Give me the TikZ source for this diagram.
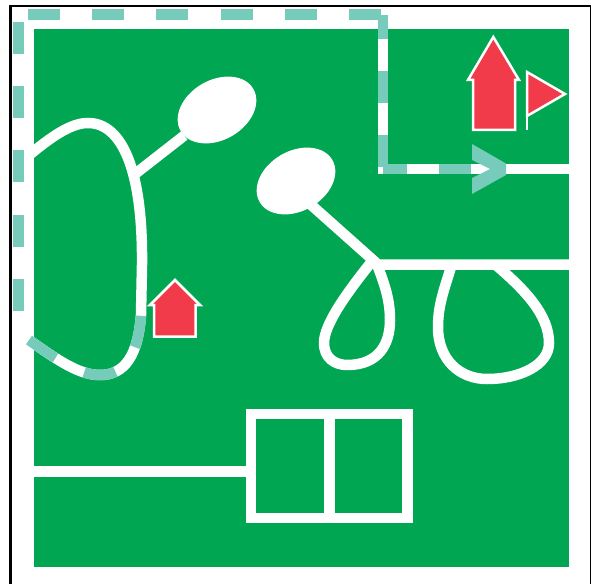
\documentclass[tikz,border=0pt]{standalone}
\usepackage{tikz}
\usetikzlibrary{calc,positioning,shapes.geometric}
\definecolor{grass}{RGB}{0,166,81}
\definecolor{trail}{RGB}{118,203,187}
\definecolor{marker}{RGB}{241,58,74}
\tikzset{
  frame/.style={draw=black,line width=.048cm},
  grassbox/.style={fill=grass},
  road/.style={draw=white,line width=.21cm},
  trailline/.style={draw=trail,line width=.21cm,dash pattern=on .64cm off .645cm},
  trailtip/.style={fill=trail},
  pond/.style={ellipse,fill=white,inner sep=0pt,outer sep=0pt,minimum width=1.68cm,minimum height=1.2cm,rotate=30},
  house/.style={draw=white,fill=marker,line width=.05cm,miter limit=10},
  flagpole/.style={draw=white,line width=.05cm}
}

\begin{document}
\begin{tikzpicture}[x=.02cm,y=-.02cm]
\useasboundingbox (0,0) rectangle (591,584);
\clip (0,0) rectangle (591,584);
\draw[frame] (10.5,6.3) rectangle (590.8,600);
\fill[grassbox] (33.5,29) rectangle (568.5,567);
% ponds
\node[pond] (pondA) at (217,110) {};
\node[pond] (pondB) at (296,181) {};
\coordinate (loopjoin) at (135,174);
\coordinate (junction) at (378,264.5);
\coordinate (eastend) at (570,264.5);
\coordinate (corner) at (383,169);
% roads
\draw[road] (pondA) -- (loopjoin);
\draw[road] (300,195) -- (junction) -- (eastend);
\draw[road] (383,25) -- (corner) -- (570,169);
\draw[road] (28,156) .. controls (50,138) and (70,123) .. (88,123)
  .. controls (122,123) and (143,170) .. (142,265) -- (141,315)
  .. controls (138,355) and (125,375) .. (100,375)
  .. controls (80,375) and (60,362) .. (29,340);
\draw[road] (373,260) .. controls (345,295) and (324,325) .. (324,343)
  .. controls (324,358) and (335,365) .. (347,365)
  .. controls (378,365) and (390,345) .. (390,320)
  .. controls (390,300) and (385,285) .. (376,262);
\draw[road] (452,264) .. controls (444,290) and (438,305) .. (438,327)
  .. controls (438,360) and (460,379) .. (487,379)
  .. controls (520,379) and (549,365) .. (549,343)
  .. controls (549,315) and (525,290) .. (497,266);
\draw[road] (30,471.4) -- (251,471.4);
\draw[road] (251,414) rectangle (407.5,518);
\draw[road] (329.5,414) -- (329.5,518);
% trail
\draw[trailline] (18.7,310.8) -- (18.7,20);
\draw[trailline] (28,14.5) -- (383,14.5);
\draw[trailline,dash phase=.16cm] (383,15) -- (383,168);
\draw[trailline,dash phase=.16cm] (383,169) -- (472,169);
\draw[trailline] (29,340) .. controls (60,362) and (80,375) .. (100,375)
  .. controls (125,375) and (138,355) .. (141,315);
\fill[trailtip] (472,144) -- (506,163.5) -- (506,175) -- (472,194) -- (472,178) -- (490,169) -- (472,160) -- cycle;
% markers
\draw[house] (493.3,37) -- (519,80) -- (515,80) -- (515,130) -- (473,130) -- (473,80) -- (468,80) -- cycle;
\draw[house] (175,280) -- (200,305) -- (195.5,305) -- (195.5,336.5) -- (154,336.5) -- (154,305) -- (150,305) -- cycle;
\draw[flagpole] (527,71) -- (527,130);
\draw[house] (527,72) -- (565,94) -- (527,116) -- cycle;
\end{tikzpicture}
\end{document}
